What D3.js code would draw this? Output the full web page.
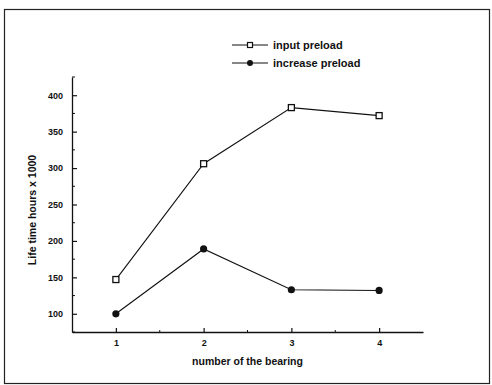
<!DOCTYPE html>
<html><head><meta charset="utf-8">
<script src="https://cdn.jsdelivr.net/npm/d3@7"></script>
<style>body{margin:0;background:#fff}svg{display:block}text{font-family:"Liberation Sans",Arial,sans-serif;font-weight:bold;fill:#111}</style>
</head><body>
<script>
const bearings = [1, 2, 3, 4];
const inputPreload = [147, 306, 383, 372];
const increasePreload = [100, 189, 133, 132];
const yTicks = [100, 150, 200, 250, 300, 350, 400];
const yMinor = [75, 125, 175, 225, 275, 325, 375, 425];
const xMinor = [1.5, 2.5, 3.5];
const seriesNames = ["input preload", "increase preload"];

const W = 492, H = 385;
const svg = d3.select("body").append("svg").attr("width", W).attr("height", H);
svg.append("rect").attr("x", 4.5).attr("y", 9.5).attr("width", 485).attr("height", 374)
  .attr("fill", "none").attr("stroke", "#222").attr("stroke-width", 1.2);

const x = d3.scaleLinear().domain([0.5, 4.5]).range([72, 423]);
const y = d3.scaleLinear().domain([75, 425]).range([332, 77]);

// axes
const gx = svg.append("g").attr("transform", `translate(0,${y(75)})`);
gx.call(d3.axisBottom(x).tickValues(bearings).tickFormat(d3.format("d")).tickSize(-4).tickPadding(8).tickSizeOuter(0));
gx.append("g").selectAll("line").data(xMinor).join("line")
  .attr("x1", d => x(d)).attr("x2", d => x(d)).attr("y1", 0).attr("y2", -2).attr("stroke", "#111");
const gy = svg.append("g").attr("transform", `translate(${x(0.5)},0)`);
gy.call(d3.axisLeft(y).tickValues(yTicks).tickSize(-5).tickPadding(9).tickSizeOuter(0));
gy.append("g").selectAll("line").data(yMinor).join("line")
  .attr("y1", d => y(d)).attr("y2", d => y(d)).attr("x1", 0).attr("x2", 3).attr("stroke", "#111");
[gx, gy].forEach(g => {
  g.selectAll("path.domain").attr("stroke", "#111").attr("stroke-width", 1.3);
  g.selectAll(".tick line").attr("stroke", "#111").attr("stroke-width", 1.2);
  g.selectAll("text").attr("font-size", 9).attr("font-family", '"Liberation Sans",Arial,sans-serif').attr("font-weight", "bold").attr("fill", "#111");
});

svg.append("text").attr("x", x(2.5)).attr("y", 365).attr("text-anchor", "middle").attr("font-size", 10.5).text("number of the bearing");
svg.append("text").attr("transform", "translate(36,210) rotate(-90)").attr("text-anchor", "middle").attr("font-size", 10.5).text("Life time hours x 1000");

const line = d3.line().x((d, i) => x(bearings[i])).y(d => y(d));
svg.append("path").datum(inputPreload).attr("d", line).attr("fill", "none").attr("stroke", "#111").attr("stroke-width", 1.1);
svg.append("path").datum(increasePreload).attr("d", line).attr("fill", "none").attr("stroke", "#111").attr("stroke-width", 1.1);
svg.append("g").selectAll("rect").data(inputPreload).join("rect")
  .attr("x", (d, i) => x(bearings[i]) - 3).attr("y", d => y(d) - 3).attr("width", 6).attr("height", 6)
  .attr("fill", "#fff").attr("stroke", "#111").attr("stroke-width", 1.3);
svg.append("g").selectAll("circle").data(increasePreload).join("circle")
  .attr("cx", (d, i) => x(bearings[i])).attr("cy", d => y(d)).attr("r", 3.6).attr("fill", "#111");

// legend
const leg = svg.append("g");
seriesNames.forEach((name, i) => {
  const ly = 45 + i * 18;
  leg.append("line").attr("x1", 232).attr("x2", 268).attr("y1", ly).attr("y2", ly).attr("stroke", "#111").attr("stroke-width", 1.1);
  if (i === 0) leg.append("rect").attr("x", 247.5).attr("y", ly - 2.5).attr("width", 5).attr("height", 5).attr("fill", "#fff").attr("stroke", "#111").attr("stroke-width", 1.2);
  else leg.append("circle").attr("cx", 250).attr("cy", ly).attr("r", 3).attr("fill", "#111");
  leg.append("text").attr("x", 273).attr("y", ly + 4).attr("font-size", 11).text(name);
});
</script>
</body></html>
